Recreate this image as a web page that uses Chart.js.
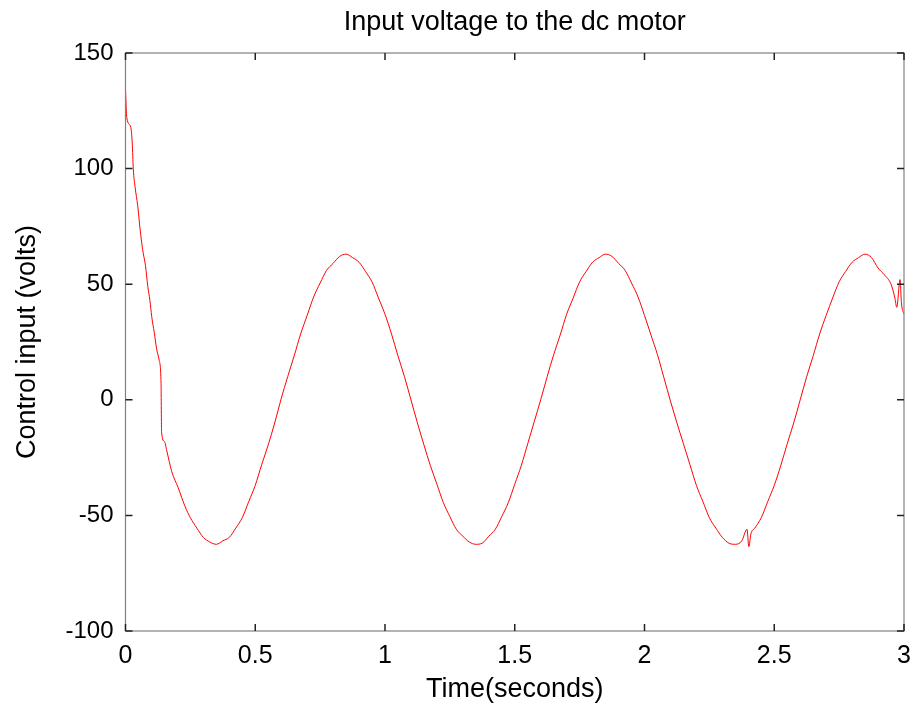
<!DOCTYPE html>
<html lang="en">
<head>
  <meta charset="UTF-8">
  <title>Input voltage to the dc motor</title>
  <script src="https://cdn.jsdelivr.net/npm/chart.js@4/dist/chart.umd.min.js"></script>
  <style>
    html, body { margin: 0; padding: 0; background: #fff; }
    #wrap { width: 917px; height: 711px; }
  </style>
</head>
<body>
<div id="wrap">
  <canvas id="cChart" width="917" height="711"></canvas>
</div>
<script>
// time (s)
const timeS = [
  0, 0.005, 0.02, 0.026, 0.03, 0.037, 0.047, 0.056, 0.066, 0.077, 0.086, 0.094,
  0.101, 0.111, 0.12, 0.13, 0.137, 0.139, 0.15, 0.159, 0.178, 0.203, 0.229,
  0.25, 0.275, 0.3, 0.325, 0.35, 0.375, 0.4, 0.425, 0.45, 0.475,
  0.5, 0.525, 0.55, 0.575, 0.6, 0.625, 0.65, 0.675, 0.7, 0.725,
  0.75, 0.775, 0.8, 0.825, 0.85, 0.875, 0.9, 0.925, 0.95, 0.975,
  1, 1.025, 1.05, 1.075, 1.1, 1.125, 1.15, 1.175, 1.2, 1.225,
  1.25, 1.275, 1.3, 1.325, 1.35, 1.375, 1.4, 1.425, 1.45, 1.475,
  1.5, 1.525, 1.55, 1.575, 1.6, 1.625, 1.65, 1.675, 1.7, 1.725,
  1.75, 1.775, 1.8, 1.825, 1.85, 1.875, 1.9, 1.925, 1.95, 1.975,
  2, 2.025, 2.05, 2.075, 2.1, 2.125, 2.15, 2.175, 2.2, 2.225,
  2.25, 2.275, 2.3, 2.325, 2.35, 2.375, 2.395, 2.402, 2.41, 2.425, 2.45, 2.475,
  2.5, 2.525, 2.55, 2.575, 2.6, 2.625, 2.65, 2.675, 2.7, 2.725,
  2.75, 2.775, 2.8, 2.825, 2.85, 2.875, 2.9, 2.925, 2.95, 2.965,
  2.972, 2.985, 2.99, 3
];

// control input (volts)
const volts = [
  134, 122, 118, 111, 100, 92, 84, 74, 65, 58, 49, 43,
  36, 29, 22, 17, 7, -14, -18, -22, -31, -38, -46,
  -51, -55.5, -59.5, -61.5, -62.5, -61, -59.5, -55.5, -51, -44,
  -37, -28, -19.5, -10, 0.5, 10, 19, 28.5, 36.5, 44.5,
  50.5, 56, 59, 62, 63, 61.5, 59.5, 55.5, 51, 44,
  37, 28.5, 19, 10, 0, -10, -19.5, -28.5, -36.5, -44.5,
  -50.5, -56, -59, -61.5, -62.5, -62, -59, -56, -50.5, -44.5,
  -36.5, -28.5, -19, -9.5, 0, 10, 19.5, 28, 37, 44,
  51, 55.5, 59.5, 61.5, 63, 62, 59, 56, 50.5, 44.5,
  36.5, 28, 19.5, 9.5, -0.5, -10, -19, -28, -37, -44,
  -51, -55.5, -59.5, -62, -62.5, -61, -56, -63.5, -58, -55.5, -51, -44,
  -37, -28.5, -19, -10, 0, 10, 19, 28.5, 36.5, 44,
  51, 55.5, 59.5, 61.5, 63, 61.5, 57, 54, 50, 44,
  40, 52, 42, 37
];

const FONT = "'Liberation Sans', Arial, Helvetica, sans-serif";
Chart.defaults.font.family = FONT;
Chart.defaults.color = '#000';

// box outline plus MATLAB-style inward ticks on all four sides
const boxTicks = {
  id: 'boxTicks',
  afterDatasetsDraw(chart) {
    const { ctx, chartArea: a, scales: { x, y } } = chart;
    ctx.save();
    ctx.strokeStyle = '#808080';
    ctx.lineWidth = 1.2;
    ctx.strokeRect(a.left, a.top, a.right - a.left, a.bottom - a.top);
    ctx.strokeStyle = '#222';
    ctx.lineWidth = 1.5;
    ctx.beginPath();
    x.ticks.forEach((t, i) => {
      const px = x.getPixelForTick(i);
      ctx.moveTo(px, a.bottom); ctx.lineTo(px, a.bottom - 7);
      ctx.moveTo(px, a.top); ctx.lineTo(px, a.top + 7);
    });
    y.ticks.forEach((t, i) => {
      const py = y.getPixelForTick(i);
      ctx.moveTo(a.left, py); ctx.lineTo(a.left + 7, py);
      ctx.moveTo(a.right, py); ctx.lineTo(a.right - 7, py);
    });
    ctx.stroke();
    ctx.restore();
  }
};

const points = timeS.map((t, i) => ({ x: t, y: volts[i] }));

const config = {
  type: 'line',
  data: {
    datasets: [{
      label: 'Control input',
      data: points,
      borderColor: '#ff0000',
      borderWidth: 1,
      pointRadius: 0,
      cubicInterpolationMode: 'monotone',
      fill: false
    }]
  },
  options: {
    responsive: false,
    animation: false,
    layout: { padding: { left: 0, right: 13, top: 0, bottom: 0 } },
    plugins: {
      legend: { display: false },
      tooltip: { enabled: false },
      title: { display: false }
    },
    scales: {
      // empty top axis, only used to carry the title centred over the plot box
      top: {
        type: 'linear',
        position: 'top',
        min: 0,
        max: 3,
        grid: { display: false, drawTicks: false },
        border: { display: false },
        ticks: { display: false },
        title: {
          display: true,
          text: 'Input voltage to the dc motor',
          font: { size: 27 },
          color: '#000',
          padding: { top: 6, bottom: 0 }
        },
        afterFit(scale) { scale.height = 53; scale.paddingLeft = 0; scale.paddingRight = 0; }
      },
      x: {
        type: 'linear',
        min: 0,
        max: 3,
        grid: { display: false, drawTicks: false },
        border: { display: false },
        ticks: {
          stepSize: 0.5, padding: 10, font: { size: 25 }, color: '#000', maxRotation: 0,
          callback: v => String(v)
        },
        title: {
          display: true,
          text: 'Time(seconds)',
          font: { size: 27 },
          color: '#000',
          padding: { top: 0, bottom: 5 }
        },
        afterFit(scale) { scale.height = 80; scale.paddingLeft = 0; scale.paddingRight = 0; }
      },
      y: {
        type: 'linear',
        min: -100,
        max: 150,
        grid: { display: false, drawTicks: false },
        border: { display: false },
        ticks: { stepSize: 50, padding: 12, font: { size: 24 }, color: '#000' },
        title: {
          display: true,
          text: 'Control input (volts)',
          font: { size: 27 },
          color: '#000',
          padding: { top: 11, bottom: 0 }
        },
        afterFit(scale) { scale.width = 125.5; scale.paddingTop = 0; scale.paddingBottom = 0; }
      }
    }
  },
  plugins: [boxTicks]
};

const cChart = new Chart(document.getElementById('cChart'), config);
</script>
</body>
</html>
